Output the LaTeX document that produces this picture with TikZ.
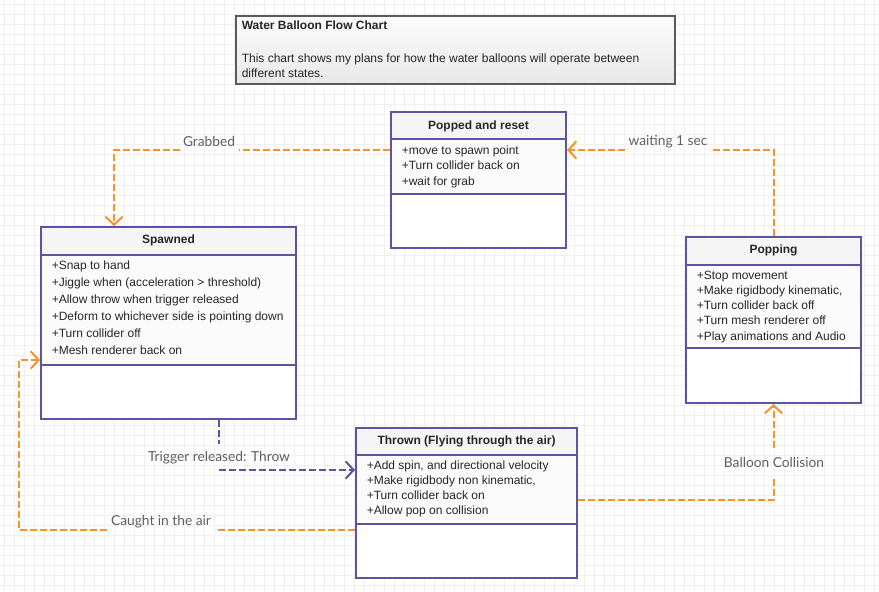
\documentclass[tikz,border=0pt]{standalone}
\usepackage{fontspec}
\setmainfont{Liberation Sans}
\newfontfamily\latofont{Lato}
\usetikzlibrary{arrows.meta,fit}
\definecolor{umlpurple}{RGB}{90,84,162}
\definecolor{umlorange}{RGB}{247,146,44}
\definecolor{lblgray}{RGB}{95,95,95}
\definecolor{gridgray}{RGB}{240,240,240}
\definecolor{headgray}{RGB}{245,245,245}
\definecolor{titleborder}{RGB}{90,90,90}

\newcommand\umlstate[8]{%
  \coordinate (#1-nw) at (#2,#3);
  \coordinate (#1-se) at (#4,#5);
  \fill[white] (#2,#3) rectangle (#4,#5);
  \fill[headgray] (#2,#3) rectangle (#4,#6);
  \fill[gray!3] (#2,#6) rectangle (#4,#7);
  \draw[divline] (#2,#6) -- (#4,#6);
  \draw[divline] (#2,#7) -- (#4,#7);
  \node[stateframe, fit=(#1-nw)(#1-se)] (#1) {};
  \node[statetitle] (#1-title) at ({(#2+#4)/2},{(#3+#6)/2}) {#8};
}

\begin{document}
\begin{tikzpicture}[x=0.75pt,y=-0.75pt,
  stateframe/.style={draw=umlpurple, line width=1.5pt, inner sep=0pt},
  divline/.style={draw=umlpurple, line width=1.5pt},
  statetitle/.style={font=\bfseries\fontsize{9}{11}\selectfont, inner sep=0pt, text=black!85},
  attr/.style={font=\fontsize{9}{11}\selectfont, inner sep=0pt, anchor=base west, text=black!85},
  flow/.style={draw=umlorange, line width=1.5pt, dash pattern=on 5pt off 2.5pt},
  flowp/.style={draw=umlpurple, line width=1.3pt, dash pattern=on 5pt off 2.5pt},
  tipv/.style={-{Straight Barb[length=6pt,width=13pt,line width=1.5pt]}},
  lbl/.style={font=\latofont\fontsize{10.3}{12}\selectfont, text=lblgray, inner sep=0pt}
]
\fill[white] (0,0) rectangle (879,592);
\useasboundingbox (0,0) rectangle (879,592);
\foreach \gx in {4,14,...,874} \draw[gridgray, line width=0.75pt] (\gx,0) -- (\gx,592);
\foreach \gy in {5,15,...,585} \draw[gridgray, line width=0.75pt] (0,\gy) -- (879,\gy);

% title box
\coordinate (t-nw) at (235.5,16.5);
\coordinate (t-se) at (674.5,84.5);
\node[fit=(t-nw)(t-se), inner sep=0pt, draw=titleborder, line width=1.5pt,
      top color=gray!3, bottom color=gray!18] (titlebox) {};
\node[font=\bfseries\fontsize{9}{11}\selectfont, anchor=base west, inner sep=0pt, text=black!85] (title) at (241.5,30) {Water Balloon Flow Chart};
\node[attr] (desc1) at (241.5,62.5) {This chart shows my plans for how the water balloons will operate between};
\node[attr] (desc2) at (241.5,77.5) {different states.};

% states
\umlstate{popped}{391}{112.5}{566}{248}{139.5}{193.5}{Popped and reset}
\foreach \t [count=\i] in {{+move to spawn point},{+Turn collider back on},{+wait for grab}}
  \node[attr] (popped-\i) at (401.5,{154.5+15.5*(\i-1)}) {\t};

\umlstate{spawned}{41}{227}{296}{419}{254.5}{365}{Spawned}
\foreach \t [count=\i] in {{+Snap to hand},{+Jiggle when (acceleration > threshold)},{+Allow throw when trigger released},{+Deform to whichever side is pointing down},{+Turn collider off},{+Mesh renderer back on}}
  \node[attr] (spawned-\i) at (51.5,{269.5+17.05*(\i-1)}) {\t};

\umlstate{popping}{686}{237}{861}{403}{264.5}{347.5}{Popping}
\foreach \t [count=\i] in {{+Stop movement},{+Make rigidbody kinematic,},{+Turn collider back off},{+Turn mesh renderer off},{+Play animations and Audio}}
  \node[attr] (popping-\i) at (696.5,{279.3+15.2*(\i-1)}) {\t};

\umlstate{thrown}{356}{427.5}{577}{577.5}{454.5}{523.5}{Thrown (Flying through the air)}
\foreach \t [count=\i] in {{+Add spin, and directional velocity},{+Make rigidbody non kinematic,},{+Turn collider back on},{+Allow pop on collision}}
  \node[attr] (thrown-\i) at (366.5,{469.3+15.2*(\i-1)}) {\t};

% Grabbed
\coordinate (g1) at (239,150);
\coordinate (g2) at (180,150);
\coordinate (gc) at (114,150);
\draw[flow] (g1 -| popped.west) -- (g1);
\draw[flow,tipv] (g2) -- (gc) -- (gc |- spawned.north);
\node[lbl] (lgrab) at (209,141) {Grabbed};

% waiting 1 sec
\coordinate (w1) at (711.5,150);
\coordinate (w2) at (625,150);
\draw[flow] (popping.north) |- (w1);
\draw[flow,tipv] (w2) -- (w2 -| popped.east);
\node[lbl] (lwait) at (668,141.5) {waiting 1 sec};

% Balloon Collision
\coordinate (b0) at (773.5,500);
\coordinate (b1) at (773.5,478);
\coordinate (b2) at (773.5,448);
\draw[flow] (thrown.east |- b0) -- (b0) -- (b1);
\draw[flow,tipv] (b2) -- (popping.south);
\node[lbl] (lcoll) at (774,462.5) {Balloon Collision};

% Caught in the air
\coordinate (c0) at (215,530);
\coordinate (c1) at (107,530);
\coordinate (c2) at (19,530);
\coordinate (c3) at (19,360);
\draw[flow] (thrown.west |- c0) -- (c0);
\draw[flow,tipv] (c1) -- (c2) -- (c3) -- (c3 -| spawned.west);
\node[lbl] (lcaught) at (161,521.5) {Caught in the air};

% Trigger released: Throw
\coordinate (tr0) at (219,444);
\coordinate (tr1) at (219,470);
\draw[flowp] (spawned.south -| tr0) -- (tr0);
\draw[flowp,tipv] (tr1) -- (tr1 -| thrown.west);
\node[lbl] (ltrig) at (219,458) {Trigger released: Throw};
\end{tikzpicture}
\end{document}
